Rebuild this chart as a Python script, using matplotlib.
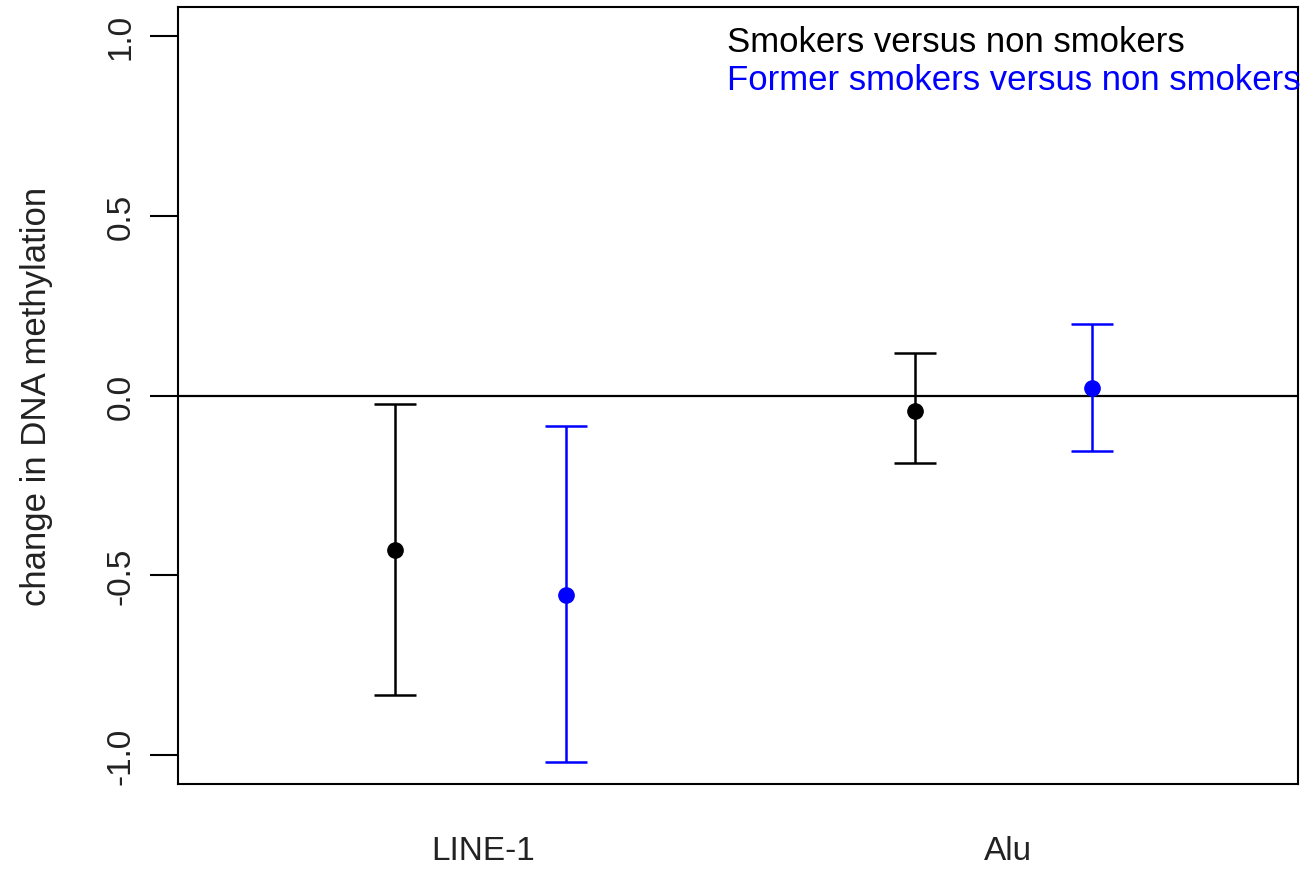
import matplotlib
matplotlib.use("Agg")
import matplotlib.pyplot as plt

plt.rcParams["font.family"] = ["Liberation Sans", "DejaVu Sans"]

# Estimates and 95% CIs
groups = ["LINE-1", "Alu"]
group_x = [1.17, 2.18]

smokers_x = [1.0, 2.0]
smokers_est = [-0.43, -0.042]
smokers_lo = [-0.833, -0.189]
smokers_hi = [-0.025, 0.117]

former_x = [1.33, 2.34]
former_est = [-0.554, 0.022]
former_lo = [-1.019, -0.153]
former_hi = [-0.084, 0.200]

fig = plt.figure(figsize=(13.06, 8.70), dpi=100)
ax = fig.add_axes([178 / 1306, 1 - 785 / 870, (1298 - 178) / 1306, (785 - 8) / 870])

ax.axhline(0, color="black", lw=1.6, zorder=1)


def draw(xs, est, lo, hi, color):
    yerr = [[e - l for e, l in zip(est, lo)], [h - e for e, h in zip(est, hi)]]
    ax.errorbar(xs, est, yerr=yerr, fmt="o", color=color, ecolor=color,
                elinewidth=1.8, capsize=15, capthick=1.8, markersize=11, zorder=3)


draw(smokers_x, smokers_est, smokers_lo, smokers_hi, "black")
draw(former_x, former_est, former_lo, former_hi, "blue")

ax.set_xlim(0.583, 2.737)
ax.set_ylim(-1.08, 1.08)
ax.set_yticks([-1.0, -0.5, 0.0, 0.5, 1.0])
ax.set_yticklabels(["-1.0", "-0.5", "0.0", "0.5", "1.0"], rotation=90, va="center")
ax.tick_params(axis="y", length=20, width=1.5, labelsize=24, pad=10, colors="black")
ax.tick_params(axis="y", labelcolor="#222222")
ax.set_xticks(group_x)
ax.set_xticklabels(groups)
ax.tick_params(axis="x", length=0, labelsize=24, pad=37, labelcolor="#222222")
for s in ax.spines.values():
    s.set_linewidth(1.5)

ax.set_ylabel("change in DNA methylation", fontsize=25, labelpad=38, color="#222222")

ax.text(0.49, 0.943, "Smokers versus non smokers", transform=ax.transAxes,
        fontsize=25, color="black", va="baseline", ha="left")
ax.text(0.49, 0.895, "Former smokers versus non smokers", transform=ax.transAxes,
        fontsize=25, color="blue", va="baseline", ha="left")

fig.savefig("out.png", dpi=100)
